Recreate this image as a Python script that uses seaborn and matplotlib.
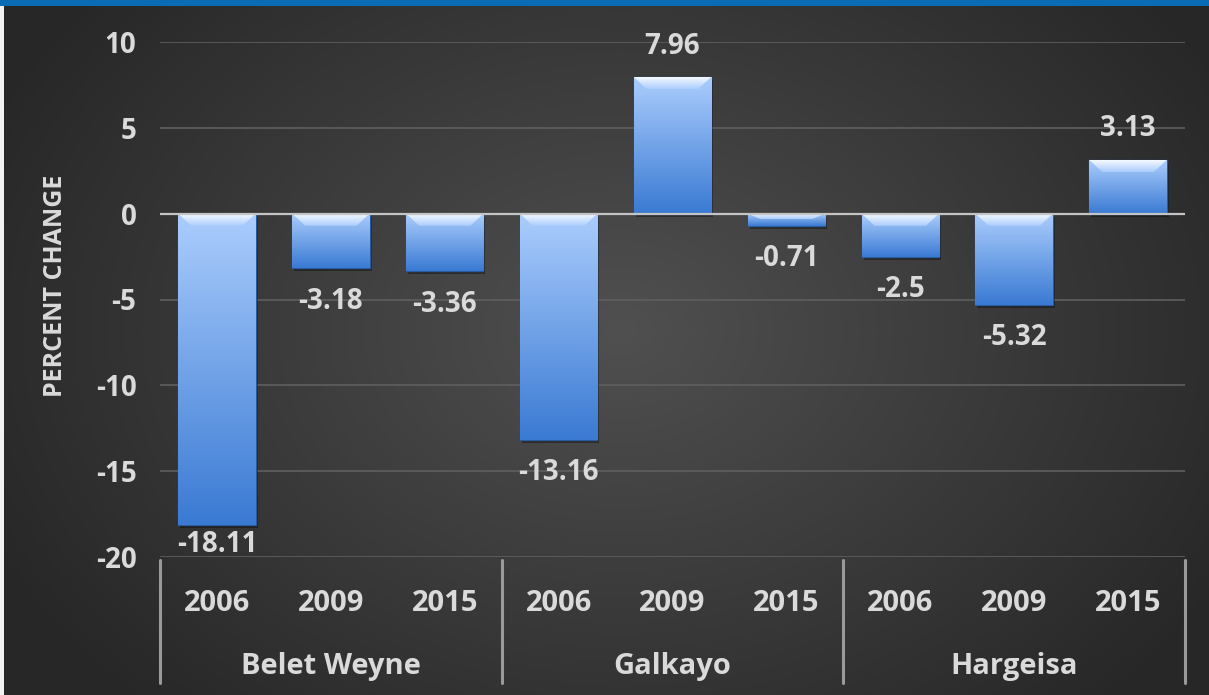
import numpy as np
import pandas as pd
import matplotlib
matplotlib.use("Agg")
import matplotlib.pyplot as plt
import matplotlib.colors as mcolors
from matplotlib.patches import Polygon, Rectangle
import seaborn as sns

# ---- data ----
cities = ["Belet Weyne", "Galkayo", "Hargeisa"]
years = ["2006", "2009", "2015"]
belet_weyne = [-18.11, -3.18, -3.36]
galkayo = [-13.16, 7.96, -0.71]
hargeisa = [-2.5, -5.32, 3.13]
y_ticks = [-20, -15, -10, -5, 0, 5, 10]

rows = []
for city, vals in zip(cities, [belet_weyne, galkayo, hargeisa]):
    for yr, v in zip(years, vals):
        rows.append({"city": city, "year": yr, "key": f"{city} {yr}", "value": v})
df = pd.DataFrame(rows)
order = list(df["key"])

sns.set_theme(style="dark")
plt.rcParams["font.family"] = ["Open Sans", "DejaVu Sans"]
plt.rcParams["font.weight"] = "bold"

TXT = "#dadada"
W, H = 1209, 695
fig = plt.figure(figsize=(W / 100, H / 100), dpi=100)
fig.patch.set_facecolor("#2b2b2b")

# radial dark background
bg = fig.add_axes([0, 0, 1, 1], zorder=-5)
yy, xx = np.mgrid[0:H, 0:W]
r = np.sqrt(((xx - 620) / 700.0) ** 2 + ((yy - 330) / 520.0) ** 2)
r = np.clip(r, 0, 1)
c_in = np.array(mcolors.to_rgb("#505050"))
c_out = np.array(mcolors.to_rgb("#272727"))
img = c_in[None, None, :] * (1 - r[..., None]) + c_out[None, None, :] * r[..., None]
bg.imshow(img, extent=[0, W, H, 0], aspect="auto")
bg.add_patch(Rectangle((0, 0), W, 6, color="#0b6bb3", lw=0))
bg.add_patch(Rectangle((0, 6), 4, H, color="#f2f2f2", lw=0))
bg.set_xlim(0, W)
bg.set_ylim(H, 0)
bg.axis("off")

ax = fig.add_axes([160 / W, 1 - 557 / H, 1025 / W, 515 / H])
ax.set_facecolor("none")

sns.barplot(data=df, x="key", y="value", order=order, ax=ax, width=0.68,
            color="#6fa3ec", saturation=1, errorbar=None, zorder=3)

ax.set_xlim(-0.5, len(order) - 0.5)
ax.set_ylim(-20, 10)
ax.set_yticks(y_ticks)
ax.set_yticklabels([str(t) for t in y_ticks])

# grid lines
for t in y_ticks:
    if t == 0:
        continue
    ax.axhline(t, color="#5f5f5f", lw=1.2, zorder=1)
ax.axhline(0, color="#c4c4c4", lw=1.6, zorder=4)

for s in ax.spines.values():
    s.set_visible(False)

# gradient fill for each bar
top_c = np.array(mcolors.to_rgb("#abcdfd"))
bot_c = np.array(mcolors.to_rgb("#3a7ad3"))
grad = np.linspace(0, 1, 256)[:, None, None]
grad_img = top_c * (1 - grad) + bot_c * grad
grad_img = np.repeat(grad_img, 4, axis=1)

# bevel gradient (bright at the edge, fading inward)
bev_grad = np.linspace(0, 1, 64)[:, None, None]
bev_img = np.array(mcolors.to_rgb("#f4f9ff")) * (1 - bev_grad) + top_c * bev_grad
bev_img = np.repeat(bev_img, 4, axis=1)

ppx = (ax.get_xlim()[1] - ax.get_xlim()[0]) / 1025.0
ppy = (ax.get_ylim()[1] - ax.get_ylim()[0]) / 515.0
ymin = ax.get_ylim()[0]
for p, v in zip(ax.patches, df["value"]):
    x0, w = p.get_x(), p.get_width()
    y0, h = p.get_y(), p.get_height()
    ylo, yhi = min(y0, y0 + h), max(y0, y0 + h)
    p.set_facecolor("none")
    p.set_edgecolor("#2a5aa0")
    p.set_linewidth(0.9)
    # soft drop shadow
    ax.add_patch(Rectangle((x0 + 2 * ppx, ylo - 3 * ppy), w, yhi - ylo,
                           color="black", alpha=0.35, lw=0, zorder=2))
    im = ax.imshow(grad_img, extent=[x0, x0 + w, ylo, yhi], aspect="auto",
                   origin="upper", zorder=3)
    im.set_clip_path(p)
    # bevel at the top edge
    bev = min(12 * ppy, (yhi - ylo) * 0.45)
    inset = 13 * ppx
    trap = Polygon([[x0, yhi], [x0 + w, yhi], [x0 + w - inset, yhi - bev],
                    [x0 + inset, yhi - bev]], closed=True, facecolor="none", lw=0)
    ax.add_patch(trap)
    bim = ax.imshow(bev_img, extent=[x0, x0 + w, yhi - bev, yhi], aspect="auto",
                    origin="upper", zorder=3.5)
    bim.set_clip_path(trap)
    # value label, kept inside the plotting area
    ty = v + 31 * ppy if v > 0 else v - 33 * ppy
    ty = max(ty, ymin + 12 * ppy)
    ax.text(x0 + w / 2, ty, f"{v:g}", ha="center", va="center", color=TXT,
            fontsize=20, fontweight="bold", zorder=6)

# axis text
ax.tick_params(axis="y", colors=TXT, labelsize=20, length=0, pad=17)
ax.tick_params(axis="x", colors=TXT, labelsize=21, length=0, pad=23)
ax.set_xticks(range(len(order)))
ax.set_xticklabels(years * len(cities))
for lbl in ax.get_xticklabels() + ax.get_yticklabels():
    lbl.set_fontweight("bold")
ax.set_xlabel("")
ax.set_ylabel("PERCENT CHANGE", color=TXT, fontsize=18, fontweight="bold")
ax.yaxis.set_label_coords(-0.09, 0.526)

# category group labels and separators
tr = ax.get_xaxis_transform()
n = len(years)
for i, city in enumerate(cities):
    ax.text(i * n + (n - 1) / 2, -0.212, city, transform=tr, ha="center", va="center",
            color=TXT, fontsize=21, fontweight="bold")
for b in range(len(cities) + 1):
    ax.plot([b * n - 0.5, b * n - 0.5], [-0.006, -0.245], transform=tr,
            color="#9a9a9a", lw=2.2, clip_on=False, zorder=5)

fig.savefig("out.png", dpi=100, facecolor=fig.get_facecolor())
